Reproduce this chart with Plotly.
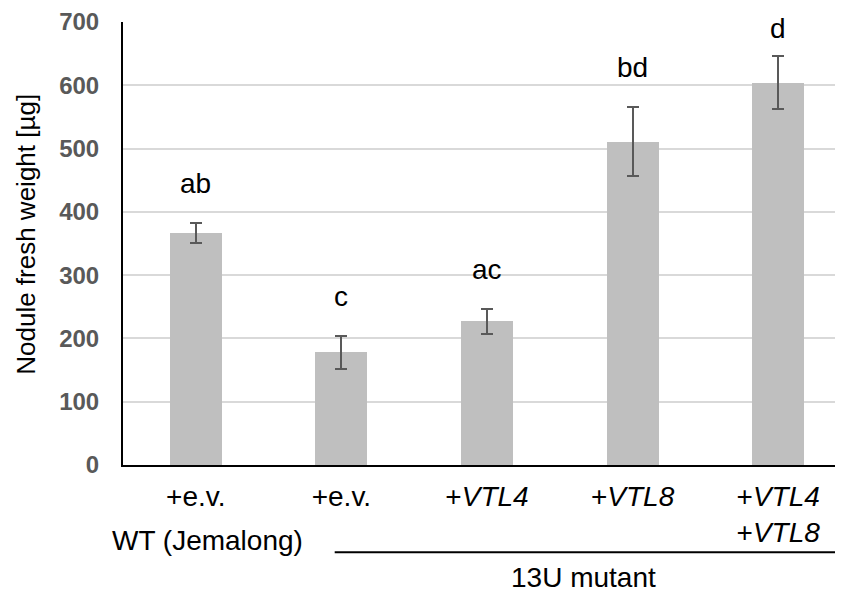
import plotly.graph_objects as go

categories = ["+e.v.", "+e.v.", "+<i>VTL4</i>", "+<i>VTL8</i>", "+<i>VTL4</i><br>+<i>VTL8</i>"]
means = [366, 178, 227, 510, 604]
err_plus = [16, 26, 19, 55, 42]
err_minus = [15, 26, 20, 54, 42]
letters = ["ab", "c", "ac", "bd", "d"]
y_ticks = [0, 100, 200, 300, 400, 500, 600, 700]
y_title = "Nodule fresh weight [µg]"
group_wt = "WT (Jemalong)"
group_mut = "13U mutant"

FONT = "Liberation Sans, Arial, sans-serif"
xs = list(range(len(categories)))

fig = go.Figure()
fig.add_trace(go.Bar(
    x=xs, y=means, width=0.357,
    marker=dict(color="#bfbfbf", line=dict(width=0)),
    error_y=dict(type="data", array=err_plus, arrayminus=err_minus,
                 color="#595959", thickness=2, width=6),
))

shifts = [26, 26, 26, 26, 14]
for i, (m, e, t) in enumerate(zip(means, err_plus, letters)):
    fig.add_annotation(x=i, y=m + e, text=t, showarrow=False,
                       yanchor="bottom", yshift=shifts[i] - 4,
                       font=dict(family=FONT, size=28, color="black"))

fig.add_annotation(x=-0.135, y=0.5215, xref="paper", yref="paper", text=y_title,
                   showarrow=False, textangle=-90, xanchor="center", yanchor="middle",
                   font=dict(family=FONT, size=26, color="black"))
fig.add_annotation(x=0.082, y=-0.170, xref="x", yref="paper", text=group_wt,
                   showarrow=False, xanchor="center", yanchor="middle",
                   font=dict(family=FONT, size=28, color="black"))
fig.add_annotation(x=2.664, y=-0.255, xref="x", yref="paper", text=group_mut,
                   showarrow=False, xanchor="center", yanchor="middle",
                   font=dict(family=FONT, size=28, color="black"))
fig.add_shape(type="line", xref="x", yref="paper", x0=0.954, x1=4.409,
              y0=-0.1967, y1=-0.1967, line=dict(color="black", width=2))

fig.update_layout(
    width=835, height=595,
    margin=dict(l=115, r=0, t=14, b=138),
    plot_bgcolor="white", paper_bgcolor="white",
    showlegend=False, bargap=0,
    xaxis=dict(
        range=[-0.5, 4.445], tickmode="array", tickvals=xs, ticktext=categories,
        tickfont=dict(family=FONT, size=28, color="black"),
        showline=True, linecolor="black", linewidth=2, showgrid=False,
        ticks="", ticklabelstandoff=5, automargin=False,
    ),
    yaxis=dict(
        range=[0, 700], tickmode="array", tickvals=y_ticks,
        tickfont=dict(family=FONT, size=24, color="#595959", weight="bold"),
        showline=True, linecolor="black", linewidth=2,
        showgrid=True, gridcolor="#d9d9d9", gridwidth=1.5,
        zeroline=False, ticks="", ticklabelstandoff=17, automargin=False,
    ),
)

fig.write_html("out.html")
